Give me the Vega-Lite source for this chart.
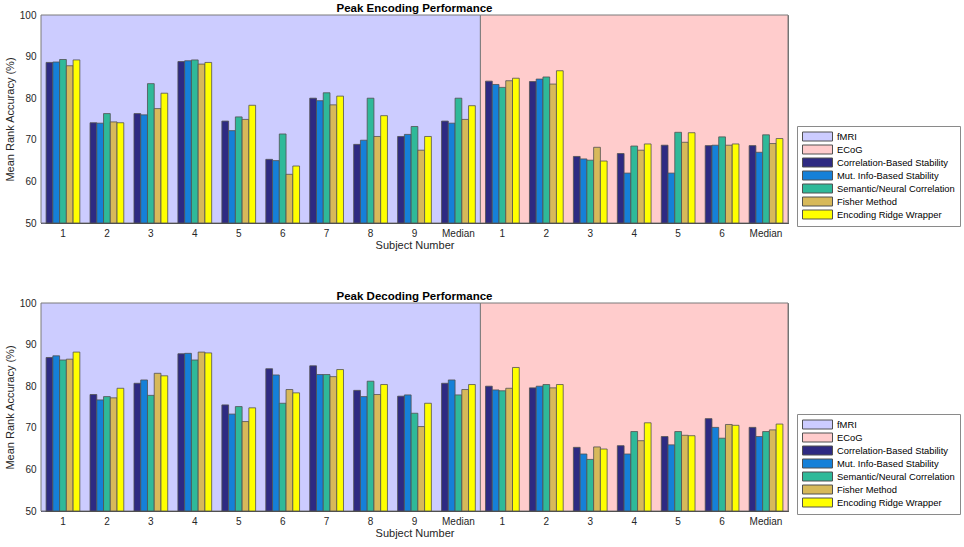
{
  "$schema": "https://vega.github.io/schema/vega-lite/v6.json",
  "padding": {"left": 3, "top": 2, "right": 0, "bottom": 0},
  "background": "white",
  "datasets": {
    "bg": [
      {"region": "fMRI", "a": 0, "b": 10},
      {"region": "ECoG", "a": 10, "b": 17}
    ],
    "enc": [
      {"s": "f1", "m": "Correlation-Based Stability", "v": 88.6},
      {"s": "f1", "m": "Mut. Info-Based Stability", "v": 88.7},
      {"s": "f1", "m": "Semantic/Neural Correlation", "v": 89.3},
      {"s": "f1", "m": "Fisher Method", "v": 87.8},
      {"s": "f1", "m": "Encoding Ridge Wrapper", "v": 89.2},
      {"s": "f2", "m": "Correlation-Based Stability", "v": 74.1},
      {"s": "f2", "m": "Mut. Info-Based Stability", "v": 74.0},
      {"s": "f2", "m": "Semantic/Neural Correlation", "v": 76.3},
      {"s": "f2", "m": "Fisher Method", "v": 74.3},
      {"s": "f2", "m": "Encoding Ridge Wrapper", "v": 74.1},
      {"s": "f3", "m": "Correlation-Based Stability", "v": 76.3},
      {"s": "f3", "m": "Mut. Info-Based Stability", "v": 76.0},
      {"s": "f3", "m": "Semantic/Neural Correlation", "v": 83.5},
      {"s": "f3", "m": "Fisher Method", "v": 77.5},
      {"s": "f3", "m": "Encoding Ridge Wrapper", "v": 81.2},
      {"s": "f4", "m": "Correlation-Based Stability", "v": 88.8},
      {"s": "f4", "m": "Mut. Info-Based Stability", "v": 89.0},
      {"s": "f4", "m": "Semantic/Neural Correlation", "v": 89.2},
      {"s": "f4", "m": "Fisher Method", "v": 88.2},
      {"s": "f4", "m": "Encoding Ridge Wrapper", "v": 88.6},
      {"s": "f5", "m": "Correlation-Based Stability", "v": 74.5},
      {"s": "f5", "m": "Mut. Info-Based Stability", "v": 72.2},
      {"s": "f5", "m": "Semantic/Neural Correlation", "v": 75.5},
      {"s": "f5", "m": "Fisher Method", "v": 74.9},
      {"s": "f5", "m": "Encoding Ridge Wrapper", "v": 78.3},
      {"s": "f6", "m": "Correlation-Based Stability", "v": 65.3},
      {"s": "f6", "m": "Mut. Info-Based Stability", "v": 65.0},
      {"s": "f6", "m": "Semantic/Neural Correlation", "v": 71.4},
      {"s": "f6", "m": "Fisher Method", "v": 61.7},
      {"s": "f6", "m": "Encoding Ridge Wrapper", "v": 63.7},
      {"s": "f7", "m": "Correlation-Based Stability", "v": 80.0},
      {"s": "f7", "m": "Mut. Info-Based Stability", "v": 79.4},
      {"s": "f7", "m": "Semantic/Neural Correlation", "v": 81.3},
      {"s": "f7", "m": "Fisher Method", "v": 78.4},
      {"s": "f7", "m": "Encoding Ridge Wrapper", "v": 80.5},
      {"s": "f8", "m": "Correlation-Based Stability", "v": 68.9},
      {"s": "f8", "m": "Mut. Info-Based Stability", "v": 69.9},
      {"s": "f8", "m": "Semantic/Neural Correlation", "v": 80.0},
      {"s": "f8", "m": "Fisher Method", "v": 70.8},
      {"s": "f8", "m": "Encoding Ridge Wrapper", "v": 75.8},
      {"s": "f9", "m": "Correlation-Based Stability", "v": 70.8},
      {"s": "f9", "m": "Mut. Info-Based Stability", "v": 71.3},
      {"s": "f9", "m": "Semantic/Neural Correlation", "v": 73.2},
      {"s": "f9", "m": "Fisher Method", "v": 67.5},
      {"s": "f9", "m": "Encoding Ridge Wrapper", "v": 70.8},
      {"s": "fMedian", "m": "Correlation-Based Stability", "v": 74.5},
      {"s": "fMedian", "m": "Mut. Info-Based Stability", "v": 74.0},
      {"s": "fMedian", "m": "Semantic/Neural Correlation", "v": 80.0},
      {"s": "fMedian", "m": "Fisher Method", "v": 74.9},
      {"s": "fMedian", "m": "Encoding Ridge Wrapper", "v": 78.2},
      {"s": "e1", "m": "Correlation-Based Stability", "v": 84.1},
      {"s": "e1", "m": "Mut. Info-Based Stability", "v": 83.3},
      {"s": "e1", "m": "Semantic/Neural Correlation", "v": 82.6},
      {"s": "e1", "m": "Fisher Method", "v": 84.2},
      {"s": "e1", "m": "Encoding Ridge Wrapper", "v": 84.8},
      {"s": "e2", "m": "Correlation-Based Stability", "v": 84.0},
      {"s": "e2", "m": "Mut. Info-Based Stability", "v": 84.6},
      {"s": "e2", "m": "Semantic/Neural Correlation", "v": 85.1},
      {"s": "e2", "m": "Fisher Method", "v": 83.4},
      {"s": "e2", "m": "Encoding Ridge Wrapper", "v": 86.6},
      {"s": "e3", "m": "Correlation-Based Stability", "v": 66.0},
      {"s": "e3", "m": "Mut. Info-Based Stability", "v": 65.4},
      {"s": "e3", "m": "Semantic/Neural Correlation", "v": 65.1},
      {"s": "e3", "m": "Fisher Method", "v": 68.2},
      {"s": "e3", "m": "Encoding Ridge Wrapper", "v": 64.9},
      {"s": "e4", "m": "Correlation-Based Stability", "v": 66.7},
      {"s": "e4", "m": "Mut. Info-Based Stability", "v": 62.0},
      {"s": "e4", "m": "Semantic/Neural Correlation", "v": 68.5},
      {"s": "e4", "m": "Fisher Method", "v": 67.5},
      {"s": "e4", "m": "Encoding Ridge Wrapper", "v": 69.0},
      {"s": "e5", "m": "Correlation-Based Stability", "v": 68.7},
      {"s": "e5", "m": "Mut. Info-Based Stability", "v": 62.0},
      {"s": "e5", "m": "Semantic/Neural Correlation", "v": 71.8},
      {"s": "e5", "m": "Fisher Method", "v": 69.4},
      {"s": "e5", "m": "Encoding Ridge Wrapper", "v": 71.7},
      {"s": "e6", "m": "Correlation-Based Stability", "v": 68.6},
      {"s": "e6", "m": "Mut. Info-Based Stability", "v": 68.7},
      {"s": "e6", "m": "Semantic/Neural Correlation", "v": 70.7},
      {"s": "e6", "m": "Fisher Method", "v": 68.7},
      {"s": "e6", "m": "Encoding Ridge Wrapper", "v": 69.0},
      {"s": "eMedian", "m": "Correlation-Based Stability", "v": 68.6},
      {"s": "eMedian", "m": "Mut. Info-Based Stability", "v": 67.0},
      {"s": "eMedian", "m": "Semantic/Neural Correlation", "v": 71.2},
      {"s": "eMedian", "m": "Fisher Method", "v": 69.1},
      {"s": "eMedian", "m": "Encoding Ridge Wrapper", "v": 70.3}
    ],
    "dec": [
      {"s": "f1", "m": "Correlation-Based Stability", "v": 86.9},
      {"s": "f1", "m": "Mut. Info-Based Stability", "v": 87.3},
      {"s": "f1", "m": "Semantic/Neural Correlation", "v": 86.3},
      {"s": "f1", "m": "Fisher Method", "v": 86.5},
      {"s": "f1", "m": "Encoding Ridge Wrapper", "v": 88.2},
      {"s": "f2", "m": "Correlation-Based Stability", "v": 78.0},
      {"s": "f2", "m": "Mut. Info-Based Stability", "v": 76.7},
      {"s": "f2", "m": "Semantic/Neural Correlation", "v": 77.5},
      {"s": "f2", "m": "Fisher Method", "v": 77.2},
      {"s": "f2", "m": "Encoding Ridge Wrapper", "v": 79.5},
      {"s": "f3", "m": "Correlation-Based Stability", "v": 80.7},
      {"s": "f3", "m": "Mut. Info-Based Stability", "v": 81.5},
      {"s": "f3", "m": "Semantic/Neural Correlation", "v": 77.8},
      {"s": "f3", "m": "Fisher Method", "v": 83.1},
      {"s": "f3", "m": "Encoding Ridge Wrapper", "v": 82.5},
      {"s": "f4", "m": "Correlation-Based Stability", "v": 87.8},
      {"s": "f4", "m": "Mut. Info-Based Stability", "v": 87.9},
      {"s": "f4", "m": "Semantic/Neural Correlation", "v": 86.3},
      {"s": "f4", "m": "Fisher Method", "v": 88.2},
      {"s": "f4", "m": "Encoding Ridge Wrapper", "v": 88.0},
      {"s": "f5", "m": "Correlation-Based Stability", "v": 75.5},
      {"s": "f5", "m": "Mut. Info-Based Stability", "v": 73.3},
      {"s": "f5", "m": "Semantic/Neural Correlation", "v": 75.1},
      {"s": "f5", "m": "Fisher Method", "v": 71.5},
      {"s": "f5", "m": "Encoding Ridge Wrapper", "v": 74.8},
      {"s": "f6", "m": "Correlation-Based Stability", "v": 84.2},
      {"s": "f6", "m": "Mut. Info-Based Stability", "v": 82.7},
      {"s": "f6", "m": "Semantic/Neural Correlation", "v": 75.9},
      {"s": "f6", "m": "Fisher Method", "v": 79.2},
      {"s": "f6", "m": "Encoding Ridge Wrapper", "v": 78.4},
      {"s": "f7", "m": "Correlation-Based Stability", "v": 84.9},
      {"s": "f7", "m": "Mut. Info-Based Stability", "v": 82.8},
      {"s": "f7", "m": "Semantic/Neural Correlation", "v": 82.8},
      {"s": "f7", "m": "Fisher Method", "v": 82.3},
      {"s": "f7", "m": "Encoding Ridge Wrapper", "v": 84.0},
      {"s": "f8", "m": "Correlation-Based Stability", "v": 79.0},
      {"s": "f8", "m": "Mut. Info-Based Stability", "v": 77.5},
      {"s": "f8", "m": "Semantic/Neural Correlation", "v": 81.2},
      {"s": "f8", "m": "Fisher Method", "v": 78.0},
      {"s": "f8", "m": "Encoding Ridge Wrapper", "v": 80.4},
      {"s": "f9", "m": "Correlation-Based Stability", "v": 77.6},
      {"s": "f9", "m": "Mut. Info-Based Stability", "v": 77.9},
      {"s": "f9", "m": "Semantic/Neural Correlation", "v": 73.5},
      {"s": "f9", "m": "Fisher Method", "v": 70.3},
      {"s": "f9", "m": "Encoding Ridge Wrapper", "v": 75.9},
      {"s": "fMedian", "m": "Correlation-Based Stability", "v": 80.7},
      {"s": "fMedian", "m": "Mut. Info-Based Stability", "v": 81.5},
      {"s": "fMedian", "m": "Semantic/Neural Correlation", "v": 77.9},
      {"s": "fMedian", "m": "Fisher Method", "v": 79.2},
      {"s": "fMedian", "m": "Encoding Ridge Wrapper", "v": 80.4},
      {"s": "e1", "m": "Correlation-Based Stability", "v": 80.0},
      {"s": "e1", "m": "Mut. Info-Based Stability", "v": 79.1},
      {"s": "e1", "m": "Semantic/Neural Correlation", "v": 78.9},
      {"s": "e1", "m": "Fisher Method", "v": 79.5},
      {"s": "e1", "m": "Encoding Ridge Wrapper", "v": 84.5},
      {"s": "e2", "m": "Correlation-Based Stability", "v": 79.6},
      {"s": "e2", "m": "Mut. Info-Based Stability", "v": 80.0},
      {"s": "e2", "m": "Semantic/Neural Correlation", "v": 80.4},
      {"s": "e2", "m": "Fisher Method", "v": 79.6},
      {"s": "e2", "m": "Encoding Ridge Wrapper", "v": 80.4},
      {"s": "e3", "m": "Correlation-Based Stability", "v": 65.3},
      {"s": "e3", "m": "Mut. Info-Based Stability", "v": 63.7},
      {"s": "e3", "m": "Semantic/Neural Correlation", "v": 62.4},
      {"s": "e3", "m": "Fisher Method", "v": 65.4},
      {"s": "e3", "m": "Encoding Ridge Wrapper", "v": 64.9},
      {"s": "e4", "m": "Correlation-Based Stability", "v": 65.7},
      {"s": "e4", "m": "Mut. Info-Based Stability", "v": 63.7},
      {"s": "e4", "m": "Semantic/Neural Correlation", "v": 69.1},
      {"s": "e4", "m": "Fisher Method", "v": 66.9},
      {"s": "e4", "m": "Encoding Ridge Wrapper", "v": 71.2},
      {"s": "e5", "m": "Correlation-Based Stability", "v": 67.9},
      {"s": "e5", "m": "Mut. Info-Based Stability", "v": 65.9},
      {"s": "e5", "m": "Semantic/Neural Correlation", "v": 69.1},
      {"s": "e5", "m": "Fisher Method", "v": 68.2},
      {"s": "e5", "m": "Encoding Ridge Wrapper", "v": 68.1},
      {"s": "e6", "m": "Correlation-Based Stability", "v": 72.2},
      {"s": "e6", "m": "Mut. Info-Based Stability", "v": 70.1},
      {"s": "e6", "m": "Semantic/Neural Correlation", "v": 67.5},
      {"s": "e6", "m": "Fisher Method", "v": 70.8},
      {"s": "e6", "m": "Encoding Ridge Wrapper", "v": 70.6},
      {"s": "eMedian", "m": "Correlation-Based Stability", "v": 70.1},
      {"s": "eMedian", "m": "Mut. Info-Based Stability", "v": 67.9},
      {"s": "eMedian", "m": "Semantic/Neural Correlation", "v": 69.1},
      {"s": "eMedian", "m": "Fisher Method", "v": 69.5},
      {"s": "eMedian", "m": "Encoding Ridge Wrapper", "v": 70.9}
    ]
  },
  "vconcat": [
    {
      "width": 747,
      "height": 208,
      "title": {"text": "Peak Encoding Performance"},
      "layer": [
        {
          "data": {"name": "bg"},
          "mark": {"type": "rect", "stroke": "#7a7a7a", "strokeWidth": 1},
          "encoding": {
            "x": {"field": "a", "type": "quantitative", "scale": {"domain": [0, 17], "nice": false, "zero": false}, "axis": null},
            "x2": {"field": "b"},
            "y": {"datum": 100, "type": "quantitative", "scale": {"domain": [50, 100], "nice": false, "zero": false}, "axis": {"title": "Mean Rank Accuracy (%)", "values": [50, 60, 70, 80, 90, 100]}},
            "y2": {"datum": 50},
            "color": {"field": "region", "type": "nominal", "scale": {"domain": ["fMRI", "ECoG", "Correlation-Based Stability", "Mut. Info-Based Stability", "Semantic/Neural Correlation", "Fisher Method", "Encoding Ridge Wrapper"], "range": ["#ccccff", "#ffcccc", "#2e2a82", "#1580d8", "#2fb999", "#d7b95a", "#ffff00"]}, "legend": {"title": null}}
          }
        },
        {
          "data": {"name": "enc"},
          "mark": {"type": "bar", "stroke": "#505050", "strokeWidth": 0.8},
          "encoding": {
            "x": {"field": "s", "type": "nominal", "sort": null, "scale": {"paddingInner": 0, "paddingOuter": 0}, "axis": {"title": "Subject Number", "labelExpr": "slice(datum.value, 1)", "labelAngle": 0, "ticks": false, "labelPadding": 5, "titlePadding": 1}},
            "xOffset": {"field": "m", "type": "nominal", "sort": null, "scale": {"domain": ["Correlation-Based Stability", "Mut. Info-Based Stability", "Semantic/Neural Correlation", "Fisher Method", "Encoding Ridge Wrapper"], "paddingInner": 0, "paddingOuter": 0.755}},
            "y": {"field": "v", "type": "quantitative", "axis": {"title": "Mean Rank Accuracy (%)", "values": [50, 60, 70, 80, 90, 100]}},
            "y2": {"datum": 50},
            "color": {"field": "m", "type": "nominal", "legend": {"title": null}}
          }
        }
      ],
      "resolve": {"scale": {"x": "independent"}}
    },
    {
      "width": 747,
      "height": 208,
      "title": {"text": "Peak Decoding Performance"},
      "layer": [
        {
          "data": {"name": "bg"},
          "mark": {"type": "rect", "stroke": "#7a7a7a", "strokeWidth": 1},
          "encoding": {
            "x": {"field": "a", "type": "quantitative", "scale": {"domain": [0, 17], "nice": false, "zero": false}, "axis": null},
            "x2": {"field": "b"},
            "y": {"datum": 100, "type": "quantitative", "scale": {"domain": [50, 100], "nice": false, "zero": false}, "axis": {"title": "Mean Rank Accuracy (%)", "values": [50, 60, 70, 80, 90, 100]}},
            "y2": {"datum": 50},
            "color": {"field": "region", "type": "nominal", "scale": {"domain": ["fMRI", "ECoG", "Correlation-Based Stability", "Mut. Info-Based Stability", "Semantic/Neural Correlation", "Fisher Method", "Encoding Ridge Wrapper"], "range": ["#ccccff", "#ffcccc", "#2e2a82", "#1580d8", "#2fb999", "#d7b95a", "#ffff00"]}, "legend": {"title": null}}
          }
        },
        {
          "data": {"name": "dec"},
          "mark": {"type": "bar", "stroke": "#505050", "strokeWidth": 0.8},
          "encoding": {
            "x": {"field": "s", "type": "nominal", "sort": null, "scale": {"paddingInner": 0, "paddingOuter": 0}, "axis": {"title": "Subject Number", "labelExpr": "slice(datum.value, 1)", "labelAngle": 0, "ticks": false, "labelPadding": 5, "titlePadding": 1}},
            "xOffset": {"field": "m", "type": "nominal", "sort": null, "scale": {"domain": ["Correlation-Based Stability", "Mut. Info-Based Stability", "Semantic/Neural Correlation", "Fisher Method", "Encoding Ridge Wrapper"], "paddingInner": 0, "paddingOuter": 0.755}},
            "y": {"field": "v", "type": "quantitative", "axis": {"title": "Mean Rank Accuracy (%)", "values": [50, 60, 70, 80, 90, 100]}},
            "y2": {"datum": 50},
            "color": {"field": "m", "type": "nominal", "legend": {"title": null}}
          }
        }
      ],
      "resolve": {"scale": {"x": "independent"}}
    }
  ],
  "spacing": 39,
  "resolve": {"scale": {"color": "independent"}, "legend": {"color": "independent"}},
  "config": {
    "font": "Liberation Sans",
    "view": {"stroke": "#6e6e6e", "strokeWidth": 1},
    "title": {"font": "Liberation Sans", "fontSize": 11.5, "fontWeight": "bold", "color": "#000000", "offset": -4, "anchor": "middle"},
    "axis": {"labelFont": "Liberation Sans", "titleFont": "Liberation Sans", "labelFontSize": 10, "titleFontSize": 11, "titleFontWeight": "normal", "labelColor": "#262626", "titleColor": "#262626", "domainColor": "#262626", "tickColor": "#5a5a8a", "grid": false},
    "axisY": {"tickSize": -4, "labelPadding": 9, "titlePadding": 4},
    "legend": {"orient": "none", "legendX": 756, "legendY": 111, "labelFont": "Liberation Sans", "labelFontSize": 9.4, "labelColor": "#000000", "symbolType": "M-1,-0.9H5V0.9H-1Z", "symbolSize": 100, "symbolStrokeColor": "#505050", "symbolStrokeWidth": 1, "symbolOpacity": 1, "labelOffset": 24, "rowPadding": 0, "padding": 5, "strokeColor": "#8a8a8a", "fillColor": "#ffffff"}
  }
}
